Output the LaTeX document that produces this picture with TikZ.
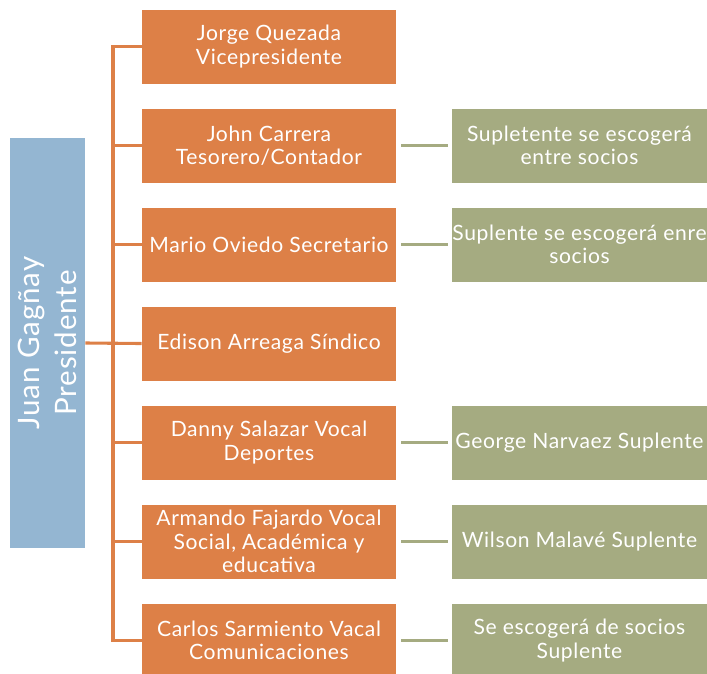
\documentclass[tikz,border=0pt]{standalone}
\usepackage{fontspec}
\setmainfont{Lato}[LetterSpace=3]
\usepackage{tikz}
\usetikzlibrary{shapes.geometric}
\definecolor{naranja}{HTML}{DD8047}
\definecolor{azul}{HTML}{94B6D2}
\definecolor{verde}{HTML}{A5AB81}
\tikzstyle{miembro} = [rectangle, fill=naranja, minimum width=6.35cm, minimum height=1.85cm, text centered, align=center, text=white, font=\fontsize{15}{16.5}\selectfont]
\tikzstyle{suplente} = [rectangle, fill=verde, minimum width=6.375cm, minimum height=1.85cm, inner xsep=0pt, text centered, align=center, text=white, font=\fontsize{15}{16.5}\selectfont]
\tikzstyle{jefe} = [rectangle, fill=azul, minimum width=10.25cm, minimum height=1.875cm, rotate=90, align=center, text=white, font=\fontsize{21}{26}\selectfont]
\tikzstyle{linea} = [line width=2.2pt, draw=naranja]
\tikzstyle{lineav} = [line width=2.2pt, draw=verde, shorten <=0.125cm, shorten >=0.1cm]

\begin{document}
\begin{tikzpicture}[node distance=2.475cm]
		\useasboundingbox (0,0) rectangle (17.675,-16.825);
		\clip (0,0) rectangle (17.675,-16.825);
		\node(p0) [jefe] at (1.1875,-8.575) {Juan Gagñay\\Presidente};
		\node(m1) [miembro] at (6.725,-1.1625) {Jorge Quezada\\Vicepresidente};
		\node(m2) [miembro, below of=m1] {John Carrera\\Tesorero/Contador};
		\node(m3) [miembro, below of=m2] {Mario Oviedo Secretario};
		\node(m4) [miembro, below of=m3] {Edison Arreaga Síndico};
		\node(m5) [miembro, below of=m4] {Danny Salazar Vocal\\Deportes};
		\node(m6) [miembro, below of=m5] {Armando Fajardo Vocal\\Social, Académica y\\educativa};
		\node(m7) [miembro, below of=m6] {Carlos Sarmiento Vacal\\Comunicaciones};
		\node(s2) [suplente, right of=m2, node distance=7.7625cm] {Supletente se escogerá\\entre socios};
		\node(s3) [suplente, right of=m3, node distance=7.7625cm] {Suplente se escogerá enre\\socios};
		\node(s5) [suplente, right of=m5, node distance=7.7625cm] {George Narvaez Suplente};
		\node(s6) [suplente, right of=m6, node distance=7.7625cm] {Wilson Malavé Suplente};
		\node(s7) [suplente, right of=m7, node distance=7.7625cm] {Se escogerá de socios\\Suplente};
		\coordinate(bus) at (2.825,0);
		\draw [linea] (p0.south) -- (m4.west);
		\draw [linea] (m1.west) -- (m1.west -| bus) -- (m7.west -| bus) -- (m7.west);
		\foreach \i in {2,3,5,6}
			\draw [linea] (m\i.west -| bus) -- (m\i.west);
		\foreach \i in {2,3,5,6,7}
			\draw [lineav] (m\i) -- (s\i);
	\end{tikzpicture}
\end{document}
